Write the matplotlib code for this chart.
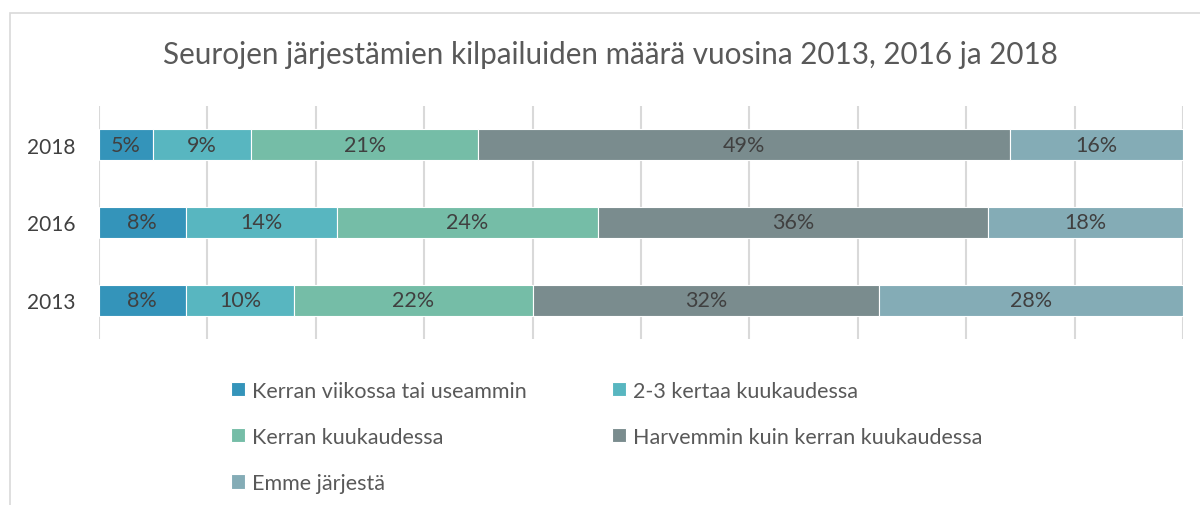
import matplotlib.pyplot as plt
from matplotlib.patches import Rectangle
import numpy as np

plt.rcParams["font.family"] = ["Lato", "DejaVu Sans"]

years = ["2013", "2016", "2018"]
categories = [
    "Kerran viikossa tai useammin",
    "2-3 kertaa kuukaudessa",
    "Kerran kuukaudessa",
    "Harvemmin kuin kerran kuukaudessa",
    "Emme järjestä",
]
# percent per category, order matches years
weekly = [8, 8, 5]
two_three = [10, 14, 9]
monthly = [22, 24, 21]
rarely = [32, 36, 49]
none = [28, 18, 16]
series = [weekly, two_three, monthly, rarely, none]
colors = ["#3494BA", "#58B6C0", "#75BDA7", "#7A8C8E", "#84ACB6"]

fig = plt.figure(figsize=(12, 5.06), dpi=100)
ax = fig.add_axes([99 / 1200, 1 - 340 / 506, 1084 / 1200, 233 / 506])

# chart border
fig.patches.append(Rectangle((10 / 1200, -0.1), 1.2, 1 - 14 / 506 + 0.1,
                             transform=fig.transFigure, fill=False,
                             edgecolor="#D9D9D9", linewidth=1.2))

y = np.arange(len(years))
left = np.zeros(len(years))
handles = []
for vals, col, name in zip(series, colors, categories):
    vals = np.array(vals, dtype=float)
    b = ax.barh(y, vals, left=left, height=0.4, color=col, edgecolor="white",
                linewidth=0.8, label=name, zorder=3)
    handles.append(b)
    for yi, l, v in zip(y, left, vals):
        ax.text(l + v / 2, yi, f"{v:.0f}%", ha="center", va="center",
                fontsize=15.5, color="#404040", zorder=4)
    left += vals

ax.set_xlim(0, 100)
ax.set_ylim(-0.5, 2.5)
ax.set_xticks(np.arange(0, 101, 10))
ax.xaxis.grid(True, color="#D9D9D9", linewidth=1.5, zorder=0)
ax.tick_params(axis="x", length=0, labelbottom=False)
ax.tick_params(axis="y", length=0, pad=17)
ax.set_yticks(y)
ax.set_yticklabels(years, fontsize=15, color="#404040")
for s in ax.spines.values():
    s.set_visible(False)

fig.text(610 / 1200, 1 - 55 / 506, "Seurojen järjestämien kilpailuiden määrä vuosina 2013, 2016 ja 2018",
         ha="center", va="center", fontsize=21.3, color="#595959")

# legend fills column-wise, reorder so it reads row by row
order = [0, 2, 4, 1, 3]
leg = fig.legend(handles=[handles[i] for i in order], loc="upper left",
                 bbox_to_anchor=(222 / 1200, 1 - 373 / 506),
                 ncol=2, frameon=False, fontsize=15.5, labelcolor="#595959",
                 handlelength=0.65, handleheight=0.65, handletextpad=0.35,
                 labelspacing=1.22, columnspacing=3.95, borderaxespad=0)

fig.savefig("out.png", dpi=100)
